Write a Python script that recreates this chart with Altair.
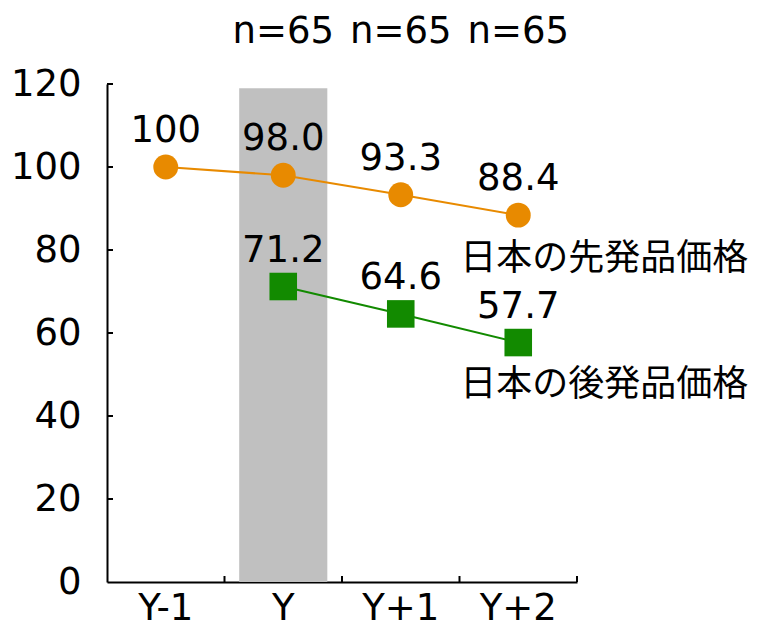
import altair as alt
import pandas as pd

categories = ["Y-1", "Y", "Y+1", "Y+2"]
brand_cats = ["Y-1", "Y", "Y+1", "Y+2"]
brand_vals = [100, 98.0, 93.3, 88.4]
brand_lbls = ["100", "98.0", "93.3", "88.4"]
generic_cats = ["Y", "Y+1", "Y+2"]
generic_vals = [71.2, 64.6, 57.7]
generic_lbls = ["71.2", "64.6", "57.7"]
n_cats = ["Y", "Y+1", "Y+2"]
n_lbls = ["n=65", "n=65", "n=65"]
highlight_cat = ["Y"]
highlight_val = [119]
y_ticks = [20, 40, 60, 80, 100, 120]
series_names = ["日本の先発品価格", "日本の後発品価格"]

ORANGE = "#E88A00"
GREEN = "#128A00"
NUM_FONT = "DejaVu Sans"
JP_FONT = "Noto Sans CJK JP"
FS = 37
JFS = 36

brand = pd.DataFrame({"cat": brand_cats, "value": brand_vals, "label": brand_lbls})
generic = pd.DataFrame({"cat": generic_cats, "value": generic_vals, "label": generic_lbls})
ndf = pd.DataFrame({"cat": n_cats, "label": n_lbls})
hl = pd.DataFrame({"cat": highlight_cat, "value": highlight_val})
ticks = pd.DataFrame({"v": y_ticks})
xticks = pd.DataFrame({"cat": categories})
brand_last = pd.DataFrame({"cat": [brand_cats[-1]], "value": [brand_vals[-1]], "label": [series_names[0]]})
generic_last = pd.DataFrame({"cat": [generic_cats[-1]], "value": [generic_vals[-1]], "label": [series_names[1]]})

xscale = alt.Scale(domain=categories, paddingInner=0, paddingOuter=0)
yscale = alt.Scale(domain=[0, 120], nice=False)

X = alt.X("cat:N", scale=xscale, sort=categories, axis=alt.Axis(
    title=None, labelAngle=0, ticks=False, labelFontSize=FS, labelFont=NUM_FONT,
    labelColor="black", labelPadding=37, labelBaseline="alphabetic",
    domainColor="black", domainWidth=2))
Y = alt.Y("value:Q", scale=yscale, axis=alt.Axis(
    title=None, values=[0, 20, 40, 60, 80, 100, 120], ticks=False, grid=False,
    labelFontSize=FS, labelFont=NUM_FONT, labelColor="black", labelPadding=26,
    domainColor="black", domainWidth=2))

bar = alt.Chart(hl).mark_bar(color="#C0C0C0", width=alt.RelativeBandSize(0.75)).encode(x=X, y=Y)

xs = alt.X("cat:N", scale=xscale, sort=categories)
ys = alt.Y("value:Q", scale=yscale)

bline = alt.Chart(brand).mark_line(color=ORANGE, strokeWidth=2).encode(x=xs, y=ys)
gline = alt.Chart(generic).mark_line(color=GREEN, strokeWidth=2).encode(x=xs, y=ys)
bpts = alt.Chart(brand).mark_point(shape="circle", filled=True, opacity=1, size=620, color=ORANGE).encode(x=xs, y=ys)
gpts = alt.Chart(generic).mark_point(shape="square", filled=True, opacity=1, size=760, color=GREEN).encode(x=xs, y=ys)

btxt = alt.Chart(brand).mark_text(dy=-25, baseline="alphabetic", fontSize=FS, font=NUM_FONT, color="black").encode(x=xs, y=ys, text="label:N")
gtxt = alt.Chart(generic).mark_text(dy=-25, baseline="alphabetic", fontSize=FS, font=NUM_FONT, color="black").encode(x=xs, y=ys, text="label:N")

ntxt = alt.Chart(ndf).mark_text(baseline="alphabetic", fontSize=FS, font=NUM_FONT, color="black").encode(
    x=xs, y=alt.value(-41), text="label:N")

bname = alt.Chart(brand_last).mark_text(align="right", baseline="alphabetic", dx=230, dy=55,
                                        fontSize=JFS, font=JP_FONT, color="black").encode(x=xs, y=ys, text="label:N")
gname = alt.Chart(generic_last).mark_text(align="right", baseline="alphabetic", dx=230, dy=53,
                                          fontSize=JFS, font=JP_FONT, color="black").encode(x=xs, y=ys, text="label:N")

ytick_rules = alt.Chart(ticks).mark_rule(color="black", strokeWidth=2).encode(
    y=alt.Y("v:Q", scale=yscale), x=alt.value(0), x2=alt.value(6))
xtick_rules = alt.Chart(xticks).mark_rule(color="black", strokeWidth=2).encode(
    x=alt.X("cat:N", scale=xscale, sort=categories, bandPosition=1), y=alt.value(498), y2=alt.value(492))

chart = alt.layer(bar, bline, gline, bpts, gpts, btxt, gtxt, ntxt, bname, gname, ytick_rules, xtick_rules).properties(
    width=470, height=498,
    autosize=alt.AutoSizeParams(type="none"),
    padding={"left": 99, "top": 76, "right": 172, "bottom": 45},
).configure_view(stroke=None)

chart.save("out.html", embed_options={"renderer": "svg", "actions": False})
